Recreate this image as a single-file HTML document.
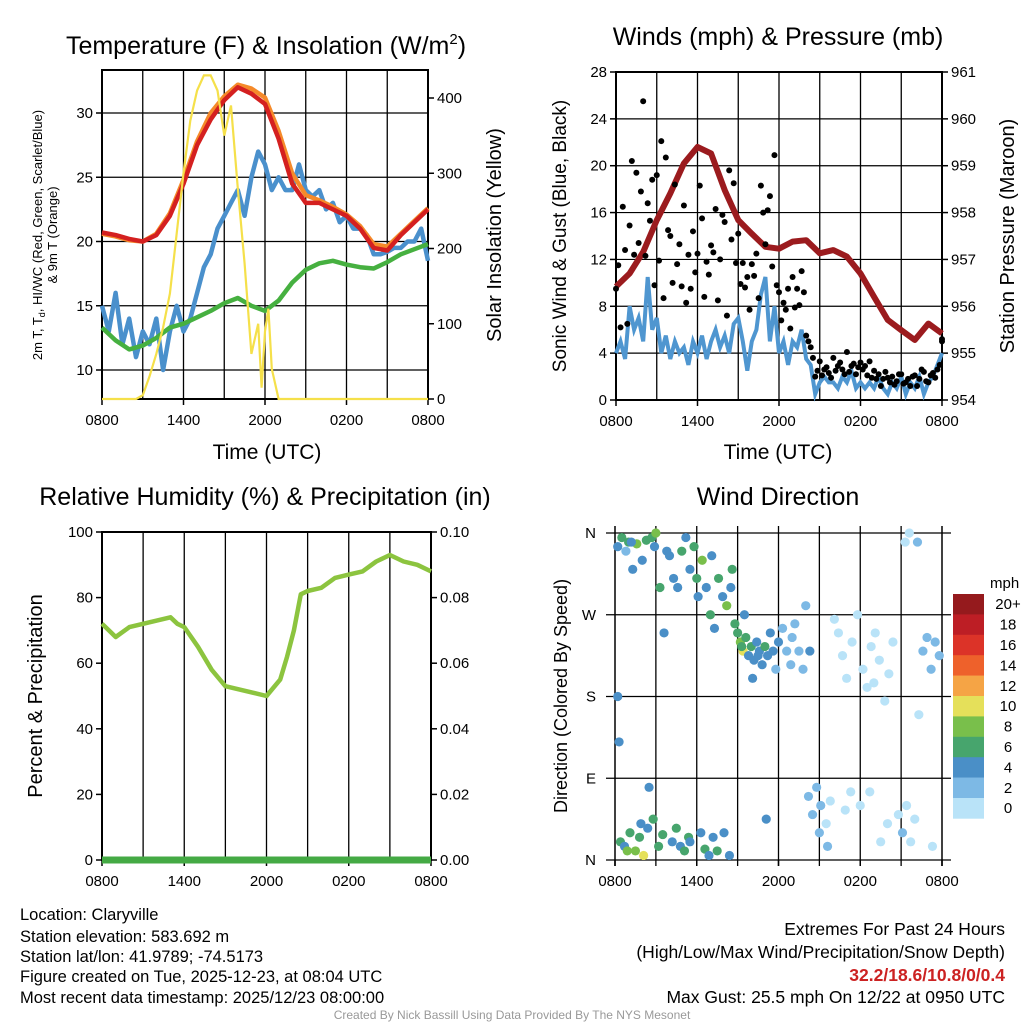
<!DOCTYPE html>
<html><head><meta charset="utf-8">
<style>
body{margin:0;background:#fff;}
svg{display:block;font-family:"Liberation Sans",sans-serif;}
</style></head>
<body>
<svg id="c" width="1024" height="1024" viewBox="0 0 1024 1024" xmlns="http://www.w3.org/2000/svg">
<g id="g1"></g>
<g id="g2"></g>
<g id="g3"></g>
<g id="g4"></g>
<text x="266" y="54" font-size="25" text-anchor="middle">Temperature (F) &amp; Insolation (W/m<tspan font-size="15" dy="-10">2</tspan><tspan dy="10">)</tspan></text>
<text x="778" y="45" font-size="25" text-anchor="middle">Winds (mph) &amp; Pressure (mb)</text>
<text x="265" y="505" font-size="25" text-anchor="middle">Relative Humidity (%) &amp; Precipitation (in)</text>
<text x="778" y="505" font-size="25" text-anchor="middle">Wind Direction</text>
<text x="267" y="459" font-size="21" text-anchor="middle">Time (UTC)</text>
<text x="778" y="459" font-size="21" text-anchor="middle">Time (UTC)</text>
<text transform="translate(42,235) rotate(-90)" font-size="13" text-anchor="middle">2m T, T<tspan font-size="9" dy="3">d</tspan><tspan dy="-3">, HI/WC (Red, Green, Scarlet/Blue)</tspan></text>
<text transform="translate(57,235) rotate(-90)" font-size="13" text-anchor="middle">&amp; 9m T (Orange)</text>
<text transform="translate(501,235) rotate(-90)" font-size="20" text-anchor="middle">Solar Insolation (Yellow)</text>
<text transform="translate(566,236) rotate(-90)" font-size="19" text-anchor="middle">Sonic Wind &amp; Gust (Blue, Black)</text>
<text transform="translate(1014,236) rotate(-90)" font-size="20" text-anchor="middle">Station Pressure (Maroon)</text>
<text transform="translate(42,696) rotate(-90)" font-size="20" text-anchor="middle">Percent &amp; Precipitation</text>
<text transform="translate(567,696) rotate(-90)" font-size="18" text-anchor="middle">Direction (Colored By Speed)</text>
<g font-size="16.5">
<text x="20" y="920">Location: Claryville</text>
<text x="20" y="942">Station elevation: 583.692 m</text>
<text x="20" y="962">Station lat/lon: 41.9789; -74.5173</text>
<text x="20" y="982">Figure created on Tue, 2025-12-23, at 08:04 UTC</text>
<text x="20" y="1003">Most recent data timestamp: 2025/12/23 08:00:00</text>
</g>
<g font-size="17.5" text-anchor="end">
<text x="1005" y="935">Extremes For Past 24 Hours</text>
<text x="1005" y="958">(High/Low/Max Wind/Precipitation/Snow Depth)</text>
<text x="1005" y="981" fill="#cc2222" font-weight="bold">32.2/18.6/10.8/0/0.4</text>
<text x="1005" y="1003">Max Gust: 25.5 mph On 12/22 at 0950 UTC</text>
</g>
<text x="512" y="1019" font-size="12" fill="#999" text-anchor="middle">Created By Nick Bassill Using Data Provided By The NYS Mesonet</text>
</svg>
<script>
// ---- Data (hours since 0800 UTC) ----
const xLabels = ["0800","1400","2000","0200","0800"];
const tempTicks = [10,15,20,25,30];
const insolTicks = [0,100,200,300,400];
const redT = [20.7,20.5,20.2,20.0,20.5,22.0,24.5,27.5,29.5,31.0,32.0,31.5,30.7,28.0,24.5,23.0,23.0,22.5,22.0,21.0,19.5,19.3,20.5,21.5,22.5];
const orangeT = [20.6,20.4,20.1,20.0,20.6,22.2,24.8,27.8,30.0,31.3,32.2,31.9,31.2,28.6,25.3,23.6,23.2,22.7,22.1,21.2,19.8,19.6,20.6,21.6,22.6];
const greenT = [13.3,12.3,11.6,11.9,12.5,13.3,13.6,14.1,14.6,15.2,15.6,15.0,14.6,15.4,16.8,17.8,18.3,18.5,18.2,18.0,17.9,18.4,19.0,19.4,19.8];
const blueT = [15,13,16,12,14,11,13,12,14,10,13,15,13,14,16,18,19,21,22,23,24,22,25,27,26,24,25,24,24,26,24,23.5,24,22.5,23,21.5,22,21,21,20.5,19,19,19.2,19.5,19.5,20,20,21,18.5];
const insolT = [0,1,2,2.5,3,3.5,4,4.5,5,5.5,6,6.5,7,7.5,8,8.5,9,9.5,10,10.5,11,11.5,11.75,12,12.25,12.5,13,14,24];
const insolV = [0,0,0,0,5,30,60,95,140,220,300,370,410,430,430,410,350,390,280,180,60,100,15,90,120,40,0,0,0];
const windTicks = [0,4,8,12,16,20,24,28];
const presTicks = [954,955,956,957,958,959,960,961];
const pressure = [956.42,956.70,957.16,957.84,958.41,959.05,959.40,959.26,958.48,957.84,957.55,957.27,957.23,957.38,957.41,957.13,957.20,957.06,956.70,956.20,955.71,955.49,955.28,955.63,955.42];
const windSpd = [4,5,3.5,8,6,7,5,10.5,6,7,4,5.5,3.5,5,4,4.5,3,5,4,5.5,3.5,5,6,4.5,5.5,4,6.5,7,5,2.5,5,6,9,10.5,5,8,4,5,3,5,4.5,6,3.5,3,0.5,1.5,2,1.5,1.5,1,2,1.5,2.5,1,1.5,1,1.5,1,2,1,0.5,1.5,1,2,0.5,1.5,1,2,0.5,1.5,2,3,4];
const gustA = [9.5,6.2,12.8,14.9,12.4,13.4,25.5,16.8,18.8,19.2,22.1,20.7,14,18.4,13.3,16.6,12.4,14.4,12.5,15.5,11.8,13.2,16.3,12,15.2,19.6,18.5,14.2,11.7,10.5,11.6,12.5,18.3,13.3,17.4,20.9,9.2,8.3,9.5,10.5,9.5,11,5.5,4.5,2,3.3,2.6,2.3,3.6,2.9,2.6,4.1,2.9,2.2,3.2,2.9,3.3,2.5,2.2,1.8,1.9,2,1.6,2.2,1.5,1.2,2.1,1.8,2.4,1.5,2.3,2.6,5.2];
const gustB = [11.5,16.5,6.5,20.4,19.4,17.8,12.3,15.3,9.8,11.9,8.7,14.5,10,11.6,9.7,8.3,9.5,10.9,18.3,8.8,10.7,12.6,8.5,15.8,7.2,13.7,11.7,9.9,9.6,7.7,10.6,8.7,16,16.2,11.4,9.8,6.8,7.7,6.1,7.9,8.1,9.2,5,3.6,2.5,2.1,2.8,1.9,2.5,3.2,2.2,2.4,3.1,2.8,2.6,2.1,1.9,1.8,1.2,2.4,1.5,1.3,2.2,1.4,1.8,2,1.2,2.6,1.6,2.1,1.9,3.0,5];
const rhTicks = [0,20,40,60,80,100];
const precipTicks = ["0.00","0.02","0.04","0.06","0.08","0.10"];
const rhT = [0,0.5,1,2,3,4,5,5.5,6,7,8,9,10,11,12,13,13.5,14,14.5,15,16,17,18,19,20,21,22,23,24];
const rhV = [72,70,68,71,72,73,74,72,71,65,58,53,52,51,50,55,62,70,81,82,83,86,87,88,91,93,91,90,88];
const dirLabels = ["N","E","S","W","N"];
const dirT = [0.2,0.5,0.8,1.0,1.3,1.6,2.0,2.3,0.4,0.7,1.1,1.5,1.8,2.1,2.4,0.3,0.2,2.5,2.7,2.9,3.2,3.5,3.0,3.8,4.0,4.3,4.6,4.9,5.2,5.5,5.8,6.1,6.4,6.7,7.0,7.3,7.6,7.9,8.2,8.5,4.2,4.5,4.8,5.1,5.4,6.3,6.6,6.9,7.2,7.5,8.0,8.4,3.6,8.8,9.0,9.2,9.4,9.6,9.8,10.0,10.2,10.4,10.6,10.8,11.0,11.2,11.4,11.6,11.8,12.0,12.3,12.6,12.9,10.1,9.5,13.2,13.5,13.8,14.2,14.5,14.8,15.1,15.5,15.8,16.1,16.4,16.7,17.0,17.4,17.8,14.0,15.0,16.9,17.3,18.2,18.5,18.8,19.1,19.4,19.8,20.1,20.4,20.8,21.1,21.4,21.7,22.0,22.3,22.6,22.9,23.2,23.5,23.8,21.3,21.6,19.5,18.7,1.2,2.8,0.9,1.9,3.3,5.5,6.0,7.1,8.6,9.3,10.5,11.1,13.0,14.3,15.6,18.0,19.0,20.0,22.2,23.3];
const dirV = [345,355,340,350,320,348,330,352,20,15,30,10,25,5,35,130,180,80,355,345,15,28,360,340,335,310,300,340,355,320,345,290,330,300,270,255,310,290,280,300,20,35,15,10,25,30,12,5,25,10,30,5,250,260,250,240,230,245,225,235,220,240,230,215,235,225,250,230,210,240,255,230,215,200,270,260,230,210,70,50,80,60,40,65,265,250,225,200,240,270,280,30,55,75,210,190,235,250,220,175,205,240,50,30,60,20,45,160,230,245,210,240,225,350,360,20,75,350,45,10,40,300,20,310,335,320,235,225,45,245,230,15,60,195,40,350,15];
const dirS = [4,6,3,6,4,8,4,6,6,4,6,8,6,10,4,4,4,4,6,4,6,6,8,4,4,4,4,6,4,4,6,4,8,4,6,4,6,4,8,4,4,6,4,6,6,4,6,4,4,6,4,4,4,6,6,8,10,6,4,6,4,4,4,4,6,4,4,4,2,4,2,2,2,4,4,2,2,2,2,2,2,2,0,0,0,0,0,0,0,0,2,2,0,0,0,0,0,0,0,0,0,0,0,2,0,0,0,0,2,2,2,2,2,0,0,0,0,4,6,8,4,6,4,6,4,6,6,4,4,2,4,2,0,0,0,2,0];
const cbLabels = ["20+","18","16","14","12","10","8","6","4","2","0"];
const cbColors = ["#951a1d","#bd1e25","#dc3328","#ee612b","#f5a445","#e5e05a","#79bf4b","#47a56d","#4a8fc7","#7db9e5","#b9e3f8"];

const NS = "http://www.w3.org/2000/svg";
function el(parent, tag, attrs){ const e=document.createElementNS(NS,tag); for(const k in attrs) e.setAttribute(k,attrs[k]); parent.appendChild(e); return e; }
function scale(d0,d1,r0,r1){ return v => r0+(v-d0)/(d1-d0)*(r1-r0); }
function pathD(xs,ys,fx,fy){ return xs.map((x,i)=>(i?"L":"M")+fx(x).toFixed(1)+","+fy(ys[i]).toFixed(1)).join(""); }
function seq(n,step){ return Array.from({length:n},(_,i)=>i*step); }

function frame(g,L,R,T,B,opts){
  const gx=scale(0,24,L,R);
  for(let h=3;h<24;h+=3){
    const ln=el(g,"line",{x1:gx(h),x2:gx(h),y1:opts.gridTop||T,y2:opts.gridBot||B,stroke:"#000","stroke-width":1.3});
    
    
  }
  if(!opts.noFrame){
    const r=el(g,"rect",{x:L,y:T,width:R-L,height:B-T,fill:"none",stroke:"#000","stroke-width":2});
    
    
  }
  xLabels.forEach((lab,i)=>{
    const x=gx(i*6);
    el(g,"line",{x1:x,x2:x,y1:B,y2:B+6,stroke:"#000","stroke-width":1.5});
    const t=el(g,"text",{x:x,y:B+26,"font-size":15,"text-anchor":"middle"}); t.textContent=lab;
    
    
  });
  return gx;
}
function yAxis(g,ticks,labels,fy,L,R,side,grid){
  ticks.forEach((v,i)=>{
    const y=fy(v);
    if(grid){ const gl=el(g,"line",{x1:L,x2:R,y1:y,y2:y,stroke:"#000","stroke-width":1.2});
      
       }
    const ax= side==="l"?L:R;
    el(g,"line",{x1:ax,x2:side==="l"?ax-6:ax+6,y1:y,y2:y,stroke:"#000","stroke-width":1.5});
    const t=el(g,"text",{x:side==="l"?ax-9:ax+9,y:y+5,"font-size":15,"text-anchor":side==="l"?"end":"start"});
    t.textContent=labels[i];
    
    
  });
}

// Panel 1
(function(){
  const g=document.getElementById("g1"), L=102,R=428,T=70,B=399;
  const fyT=scale(10,30,370,113), fyI=scale(0,400,399,98);
  const gx=frame(g,L,R,T,B,{});
  yAxis(g,tempTicks,tempTicks.map(String),fyT,L,R,"l",true);
  yAxis(g,insolTicks,insolTicks.map(String),fyI,L,R,"r",false);
  const h1=seq(25,1), h2=seq(49,0.5);
  const lines=[[h2,blueT,"#4a90cc","temp-blue-line"],[h1,greenT,"#46b040","dewpoint-green-line"],[h1,orangeT,"#f58a2a","temp-9m-orange-line"],[h1,redT,"#d42020","temp-2m-red-line"]];
  lines.forEach(([xs,ys,c,n])=>{
    const p=el(g,"path",{d:pathD(xs,ys,gx,fyT),fill:"none",stroke:c,"stroke-width":4.5,"stroke-linejoin":"round"});
    
    
  });
  const y=el(g,"path",{d:pathD(insolT,insolV,gx,fyI),fill:"none",stroke:"#f5e04a","stroke-width":2.2});
  
  
})();

// Panel 2
(function(){
  const g=document.getElementById("g2"), L=616,R=942,T=72,B=400;
  const fyW=scale(0,28,B,T), fyP=scale(954,961,B,T);
  const gx=frame(g,L,R,T,B,{});
  yAxis(g,windTicks,windTicks.map(String),fyW,L,R,"l",true);
  yAxis(g,presTicks,presTicks.map(String),fyP,L,R,"r",false);
  const h=seq(73,1/3);
  const w=el(g,"path",{d:pathD(h,windSpd,gx,fyW),fill:"none",stroke:"#4f96d0","stroke-width":4});
  
  
  const p=el(g,"path",{d:pathD(seq(25,1),pressure,gx,fyP),fill:"none",stroke:"#9b1b1e","stroke-width":6,"stroke-linejoin":"round"});
  
  
  gustA.forEach((v,i)=>{
    const c=el(g,"circle",{cx:gx(h[i]),cy:fyW(v),r:3,fill:"#000"});
    
    
  });
  gustB.forEach((v,i)=>{
    const c=el(g,"circle",{cx:gx(Math.min(24,h[i]+1/6)),cy:fyW(v),r:3,fill:"#000"});
    
    
  });
})();

// Panel 3
(function(){
  const g=document.getElementById("g3"), L=102,R=431,T=532,B=860;
  const fy=scale(0,100,B,T);
  const gx=frame(g,L,R,T,B,{});
  yAxis(g,rhTicks,rhTicks.map(String),fy,L,R,"l",false);
  yAxis(g,rhTicks,precipTicks,fy,L,R,"r",false);
  const p=el(g,"path",{d:pathD(rhT,rhV,gx,fy),fill:"none",stroke:"#8cc43f","stroke-width":4.5,"stroke-linejoin":"round"});
  
  
  const pr=el(g,"line",{x1:L,x2:R,y1:fy(0),y2:fy(0),stroke:"#44aa44","stroke-width":7});
  
  
})();

// Panel 4
(function(){
  const g=document.getElementById("g4"), L=615,R=942,T=533,B=860;
  const fy=scale(0,360,B,T);
  const gx=frame(g,L,R,T,B,{noFrame:true,gridTop:526,gridBot:866});
  [0,90,180,270,360].forEach((v,i)=>{
    const y=fy(v);
    const gl=el(g,"line",{x1:606,x2:951,y1:y,y2:y,stroke:"#000","stroke-width":1.3});
    
    
    const t=el(g,"text",{x:596,y:y+5,"font-size":15,"text-anchor":"end"}); t.textContent=dirLabels[i];
    
    
  });
  [L,R].forEach(x=>{ el(g,"line",{x1:x,x2:x,y1:526,y2:866,stroke:"#000","stroke-width":1.5}); });
  dirT.forEach((t,i)=>{
    const idx=Math.max(0,10-Math.min(10,Math.floor(dirS[i]/2)));
    const c=el(g,"circle",{cx:gx(t),cy:fy(dirV[i]),r:4.6,fill:cbColors[idx]});
    
    
  });
  const mph=el(g,"text",{x:990,y:588,"font-size":15}); mph.textContent="mph";
  
  
  const bh=20.4;
  cbLabels.forEach((lab,i)=>{
    const r=el(g,"rect",{x:953,y:594+i*bh,width:31,height:bh+0.3,fill:cbColors[i]});
    
    
    const t=el(g,"text",{x:1008,y:594+i*bh+bh/2+5,"font-size":15,"text-anchor":"middle"}); t.textContent=lab;
    
    
  });
})();
</script>
</body></html>
